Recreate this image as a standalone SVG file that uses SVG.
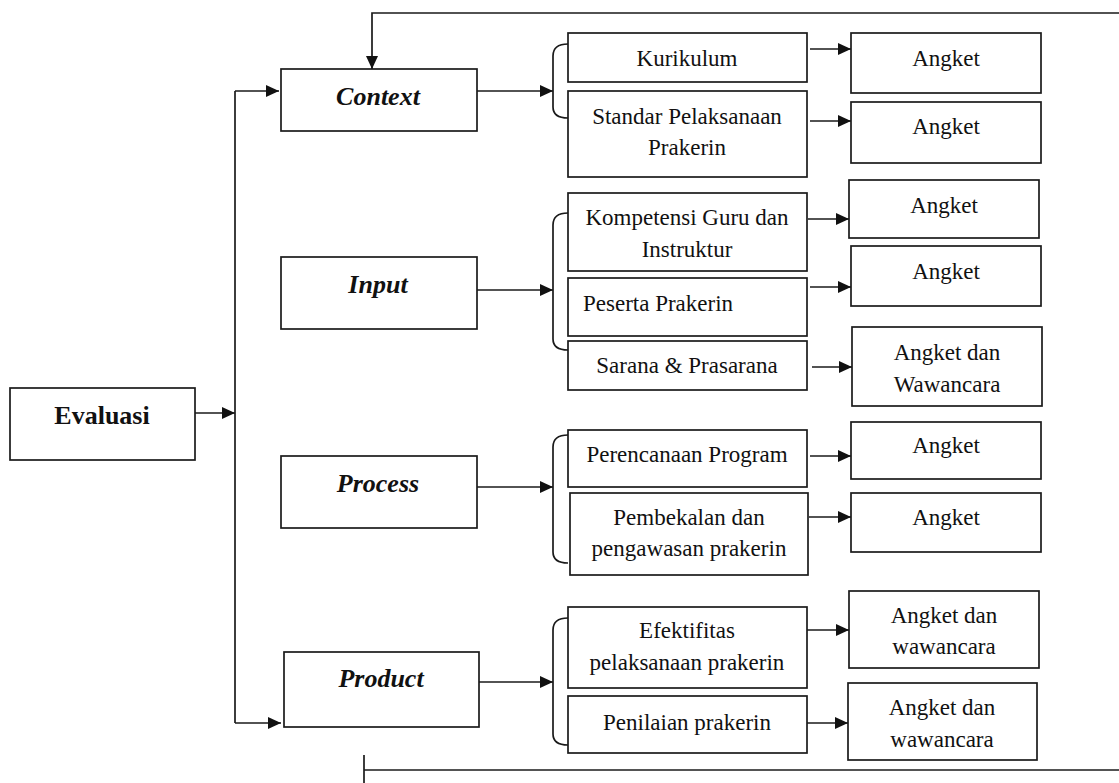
<svg xmlns="http://www.w3.org/2000/svg" width="1119" height="783" viewBox="0 0 1119 783">
<style>
  .box{fill:#fff;stroke:#1a1a1a;stroke-width:1.7}
  .t{font-family:"Liberation Serif","Times New Roman",serif;font-size:23px;fill:#111;text-anchor:middle}
  .b{font-family:"Liberation Serif","Times New Roman",serif;font-size:26px;font-weight:bold;fill:#111;text-anchor:middle}
  .bi{font-style:italic}
  .ln{fill:none;stroke:#1a1a1a;stroke-width:1.7}
</style>
<defs>
  <marker id="ah" markerUnits="userSpaceOnUse" markerWidth="14" markerHeight="12" refX="13" refY="6" orient="auto">
    <path d="M0,0 L13,6 L0,12 Z" fill="#111"/>
  </marker>
</defs>
<rect width="1119" height="783" fill="#fff"/>

<g id="connectors">
  <path class="ln" d="M1119,13 L372,13 L372,69" marker-end="url(#ah)"/>
  <path class="ln" d="M1119,770 L364,770"/>
  <path class="ln" d="M364,755 L364,783"/>
  <path class="ln" d="M195,413 L235,413" marker-end="url(#ah)"/>
  <path class="ln" d="M235,91 L235,723"/>
  <path class="ln" d="M235,91 L279,91" marker-end="url(#ah)"/>
  <path class="ln" d="M235,723 L281,723" marker-end="url(#ah)"/>
  <path class="ln" d="M477,91 L553,91" marker-end="url(#ah)"/>
  <path class="ln" d="M477,290 L553,290" marker-end="url(#ah)"/>
  <path class="ln" d="M477,487 L553,487" marker-end="url(#ah)"/>
  <path class="ln" d="M479,682 L553,682" marker-end="url(#ah)"/>
  <path class="ln" d="M568,44 Q553,44 553,56 L553,107 Q553,118 568,118"/>
  <path class="ln" d="M568,213 Q553,213 553,225 L553,339 Q553,350 568,350"/>
  <path class="ln" d="M568,435 Q553,435 553,447 L553,552 Q553,563 568,563"/>
  <path class="ln" d="M568,618 Q553,618 553,630 L553,734 Q553,745 568,745"/>
  <path class="ln" d="M810,49 L851,49" marker-end="url(#ah)"/>
  <path class="ln" d="M810,121 L851,121" marker-end="url(#ah)"/>
  <path class="ln" d="M808,219 L849,219" marker-end="url(#ah)"/>
  <path class="ln" d="M810,287 L851,287" marker-end="url(#ah)"/>
  <path class="ln" d="M812,367 L852,367" marker-end="url(#ah)"/>
  <path class="ln" d="M810,456 L851,456" marker-end="url(#ah)"/>
  <path class="ln" d="M809,517 L851,517" marker-end="url(#ah)"/>
  <path class="ln" d="M807,630 L849,630" marker-end="url(#ah)"/>
  <path class="ln" d="M805,723 L848,723" marker-end="url(#ah)"/>
</g>

<g id="evaluasi">
  <rect class="box" x="10" y="388" width="185" height="72"/>
  <text class="b" x="102" y="424">Evaluasi</text>
</g>

<g id="context">
  <rect class="box" x="281" y="69" width="196" height="62"/>
  <text class="b bi" x="378" y="105">Context</text>
</g>
<g id="input">
  <rect class="box" x="281" y="257" width="196" height="72"/>
  <text class="b bi" x="378" y="293">Input</text>
</g>
<g id="process">
  <rect class="box" x="281" y="456" width="196" height="72"/>
  <text class="b bi" x="378" y="492">Process</text>
</g>
<g id="product">
  <rect class="box" x="284" y="652" width="195" height="75"/>
  <text class="b bi" x="381" y="687">Product</text>
</g>

<g id="kurikulum">
  <rect class="box" x="568" y="33" width="239" height="49"/>
  <text class="t" x="687" y="66">Kurikulum</text>
</g>
<g id="standar">
  <rect class="box" x="568" y="91" width="239" height="86"/>
  <text class="t" x="687" y="124">Standar Pelaksanaan</text>
  <text class="t" x="687" y="155">Prakerin</text>
</g>
<g id="kompetensi">
  <rect class="box" x="568" y="193" width="239" height="78"/>
  <text class="t" x="687" y="225">Kompetensi Guru dan</text>
  <text class="t" x="687" y="257">Instruktur</text>
</g>
<g id="peserta">
  <rect class="box" x="568" y="278" width="239" height="58"/>
  <text class="t" x="583" y="311" style="text-anchor:start">Peserta Prakerin</text>
</g>
<g id="sarana">
  <rect class="box" x="568" y="341" width="239" height="49"/>
  <text class="t" x="687" y="373">Sarana &amp; Prasarana</text>
</g>
<g id="perencanaan">
  <rect class="box" x="568" y="430" width="239" height="57"/>
  <text class="t" x="687" y="462">Perencanaan Program</text>
</g>
<g id="pembekalan">
  <rect class="box" x="570" y="493" width="238" height="82"/>
  <text class="t" x="689" y="525">Pembekalan dan</text>
  <text class="t" x="689" y="556">pengawasan prakerin</text>
</g>
<g id="efektifitas">
  <rect class="box" x="568" y="607" width="239" height="81"/>
  <text class="t" x="687" y="638">Efektifitas</text>
  <text class="t" x="687" y="670">pelaksanaan prakerin</text>
</g>
<g id="penilaian">
  <rect class="box" x="568" y="696" width="239" height="57"/>
  <text class="t" x="687" y="730">Penilaian prakerin</text>
</g>

<g id="angket1">
  <rect class="box" x="851" y="33" width="190" height="60"/>
  <text class="t" x="946" y="66">Angket</text>
</g>
<g id="angket2">
  <rect class="box" x="851" y="102" width="190" height="61"/>
  <text class="t" x="946" y="134">Angket</text>
</g>
<g id="angket3">
  <rect class="box" x="849" y="180" width="190" height="58"/>
  <text class="t" x="944" y="213">Angket</text>
</g>
<g id="angket4">
  <rect class="box" x="851" y="246" width="190" height="60"/>
  <text class="t" x="946" y="279">Angket</text>
</g>
<g id="angket5">
  <rect class="box" x="852" y="327" width="190" height="79"/>
  <text class="t" x="947" y="360">Angket dan</text>
  <text class="t" x="947" y="392">Wawancara</text>
</g>
<g id="angket6">
  <rect class="box" x="851" y="422" width="190" height="57"/>
  <text class="t" x="946" y="453">Angket</text>
</g>
<g id="angket7">
  <rect class="box" x="851" y="493" width="190" height="59"/>
  <text class="t" x="946" y="525">Angket</text>
</g>
<g id="angket8">
  <rect class="box" x="849" y="591" width="190" height="77"/>
  <text class="t" x="944" y="623">Angket dan</text>
  <text class="t" x="944" y="654">wawancara</text>
</g>
<g id="angket9">
  <rect class="box" x="848" y="683" width="189" height="77"/>
  <text class="t" x="942" y="715">Angket dan</text>
  <text class="t" x="942" y="747">wawancara</text>
</g>
</svg>
